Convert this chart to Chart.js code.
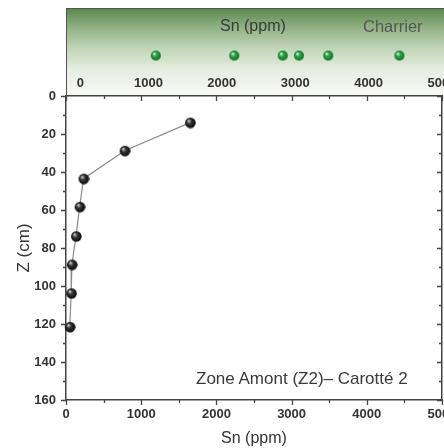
<!DOCTYPE html>
<html>
<head>
<meta charset="utf-8">
<script src="https://cdn.jsdelivr.net/npm/chart.js@4.4.1/dist/chart.umd.min.js"></script>
<style>
  html, body { margin: 0; padding: 0; background: #fff; }
  #wrap { position: relative; width: 444px; height: 448px; overflow: hidden; font-family: 'Liberation Sans', Arial, sans-serif; }
  #main { position: absolute; left: 0; top: 0; }
  #panelBg {
    position: absolute; left: 66px; top: 8px; width: 404px; height: 87px;
    box-sizing: border-box; border-top: 1px solid #555; border-left: 1px solid #555;
    background: linear-gradient(to bottom, #5a8a4e 0%, #92b286 22%, #c5d8bb 48%, #e7eee2 72%, #f8f8f5 100%);
  }
  #panel { position: absolute; left: 66px; top: 8px; }
  .txt { position: absolute; white-space: nowrap; line-height: 1; color: #3a3a3a; }
</style>
</head>
<body>
<div id="wrap">
  <canvas id="main" width="470" height="448"></canvas>
  <div id="panelBg"></div>
  <canvas id="panel" width="404" height="88"></canvas>
  <div class="txt" style="left:220px; top:18px; font-size:16px;">Sn (ppm)</div>
  <div class="txt" style="left:363px; top:18px; font-size:16.5px; color:#555;">Charrier</div>
  <div class="txt" style="left:196px; top:370px; font-size:17px;">Zone Amont (Z2)– Carotté 2</div>
</div>
<script>
// Zone Amont (Z2) - core 2 : Sn content against depth
var depthCm = [14, 28.8, 43.5, 58.3, 73.8, 88.7, 103.8, 121.5];
var snPpm = [1650, 780, 233, 182, 133, 78, 69, 50];

// Charrier reference values (top strip)
var charrierSn = [1100, 2170, 2830, 3050, 3450, 4420];
var charrierRow = [0, 0, 0, 0, 0, 0];

var xTicks = [0, 1000, 2000, 3000, 4000, 5000];
var zTicks = [0, 20, 40, 60, 80, 100, 120, 140, 160];

var tickFont = { family: 'Liberation Sans', size: 13, weight: 'bold' };
var axisColor = '#444';

function makeBall(r, light, mid, dark) {
    var c = document.createElement('canvas');
    c.width = c.height = r * 2 + 2;
    var g = c.getContext('2d');
    var cx = r + 1, cy = r + 1;
    var grad = g.createRadialGradient(cx - r * 0.35, cy - r * 0.4, r * 0.1, cx, cy, r);
    grad.addColorStop(0, light);
    grad.addColorStop(0.35, mid);
    grad.addColorStop(1, dark);
    g.fillStyle = grad;
    g.beginPath();
    g.arc(cx, cy, r, 0, Math.PI * 2);
    g.fill();
    return c;
}

var blackBall = makeBall(5.3, '#c8c8c8', '#3a3a3a', '#050505');
var greenBall = makeBall(5, '#c8f5d0', '#2fa84c', '#0e6a24');

// inward / outward tick marks with minor ticks
var tickMarks = {
    id: 'tickMarks',
    afterDraw: function(chart) {
        var ctx = chart.ctx, a = chart.chartArea;
        var x = chart.scales.x, y = chart.scales.y;
        ctx.save();
        ctx.strokeStyle = axisColor;
        ctx.lineWidth = 1.3;
        ctx.beginPath();
        for (var v = x.min; v <= x.max; v += 500) {
            var px = Math.round(x.getPixelForValue(v)) + 0.5;
            var len = v % 1000 ? 3 : 5;
            ctx.moveTo(px, a.bottom); ctx.lineTo(px, a.bottom + len);
            ctx.moveTo(px, a.top); ctx.lineTo(px, a.top + len);
        }
        for (var w = y.min; w <= y.max; w += 10) {
            var py = Math.round(y.getPixelForValue(w)) + 0.5;
            var l2 = w % 20 ? 3 : 5;
            ctx.moveTo(a.left - l2, py); ctx.lineTo(a.left, py);
            ctx.moveTo(a.right - l2, py); ctx.lineTo(a.right, py);
        }
        ctx.stroke();
        ctx.restore();
    }
};

function fixedTicks(list) {
    return function(scale) {
        scale.ticks = list.map(function(v) { return { value: v }; });
    };
}

function plain(v) { return String(v); }

new Chart(document.getElementById('main').getContext('2d'), {
    type: 'scatter',
    data: {
        datasets: [{
            data: depthCm.map(function(z, i) { return { x: snPpm[i], y: z }; }),
            showLine: true,
            borderColor: '#8a8a8a',
            borderWidth: 1.2,
            pointStyle: blackBall,
            pointRadius: 5,
            clip: false
        }]
    },
    options: {
        responsive: false,
        animation: false,
        events: [],
        layout: { padding: 0, autoPadding: false },
        plugins: { legend: { display: false }, tooltip: { enabled: false } },
        scales: {
            x: {
                type: 'linear', position: 'bottom', min: 0, max: 5000,
                afterBuildTicks: fixedTicks(xTicks),
                ticks: { font: tickFont, color: '#333', padding: 7, maxRotation: 0, callback: plain },
                grid: { display: false, drawTicks: false },
                border: { color: axisColor, width: 1.5 },
                title: { display: true, text: 'Sn (ppm)', color: '#333', padding: 0,
                         font: { family: 'Liberation Sans', size: 16 } },
                afterFit: function(s) { s.height = 48; }
            },
            xTop: {
                type: 'linear', position: 'top', min: 0, max: 5000,
                ticks: { display: false },
                grid: { display: false, drawTicks: false },
                border: { color: axisColor, width: 1.5 },
                afterFit: function(s) { s.height = 96; }
            },
            y: {
                type: 'linear', position: 'left', reverse: true, min: 0, max: 160,
                afterBuildTicks: fixedTicks(zTicks),
                ticks: { font: tickFont, color: '#333', padding: 10, callback: plain },
                grid: { display: false, drawTicks: false },
                border: { color: axisColor, width: 1.5 },
                title: { display: true, text: 'Z (cm)', color: '#333', padding: { top: 14, bottom: 0 },
                         font: { family: 'Liberation Sans', size: 17 } },
                afterFit: function(s) { s.width = 66; }
            },
            yRight: {
                type: 'linear', position: 'right', reverse: true, min: 0, max: 160,
                ticks: { display: false },
                grid: { display: false, drawTicks: false },
                border: { color: axisColor, width: 1.5 },
                afterFit: function(s) { s.width = 28; }
            }
        }
    },
    plugins: [tickMarks]
});

new Chart(document.getElementById('panel').getContext('2d'), {
    type: 'scatter',
    data: {
        datasets: [{
            data: charrierSn.map(function(v, i) { return { x: v, y: charrierRow[i] }; }),
            pointStyle: greenBall,
            pointRadius: 5,
            clip: false
        }]
    },
    options: {
        responsive: false,
        animation: false,
        events: [],
        layout: { padding: { left: 0.5, right: 28, top: 0, bottom: 0 }, autoPadding: false },
        plugins: { legend: { display: false }, tooltip: { enabled: false } },
        scales: {
            x: {
                type: 'linear', position: 'bottom', min: 0, max: 5000,
                afterBuildTicks: fixedTicks(xTicks),
                ticks: {
                    font: tickFont, color: '#333', padding: 0, maxRotation: 0,
                    callback: function(v) { return v === 0 ? '   0' : String(v); }
                },
                grid: { display: false, drawTicks: false },
                border: { display: false },
                afterFit: function(s) { s.height = 20; }
            },
            y: { display: false, min: -0.3, max: 0.7 }
        }
    }
});
</script>
</body>
</html>
